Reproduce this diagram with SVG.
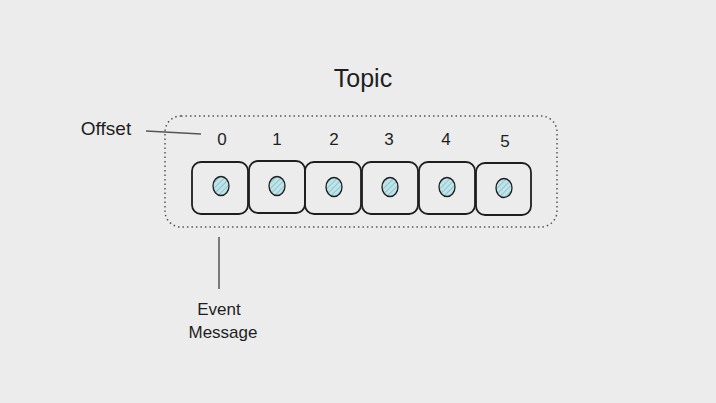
<svg xmlns="http://www.w3.org/2000/svg" width="716" height="403" viewBox="0 0 716 403">
<defs>
<pattern id="hatch" width="4" height="4" patternUnits="userSpaceOnUse" patternTransform="rotate(45)">
<rect width="4" height="4" fill="#bfe3e8"/>
<line x1="0" y1="0" x2="0" y2="4" stroke="#7fbcc6" stroke-width="1.5"/>
</pattern>
</defs>
<style>
.t{font-family:"Liberation Sans","DejaVu Sans",sans-serif;fill:#1e1e1e}
.box{fill:none;stroke:#1e1e1e;stroke-width:1.8}
.dot{fill:url(#hatch);stroke:#1e1e1e;stroke-width:1.3}
.ln{stroke:#555;stroke-width:1.5;fill:none}
</style>
<rect width="716" height="403" fill="#ececec"/>
<g id="topic">
<rect x="165" y="116" width="392" height="111" rx="16" fill="none" stroke="#555" stroke-width="1.5" stroke-dasharray="1.5 3"/>
<text class="t" x="363" y="87" font-size="25" text-anchor="middle">Topic</text>
</g>
<g id="offset"><text class="t" x="106" y="135" font-size="19" text-anchor="middle">Offset</text></g>
<g id="event"><text class="t" x="219" y="315" font-size="17" text-anchor="middle">Event</text><text class="t" x="223" y="338" font-size="17" text-anchor="middle">Message</text></g>
<g id="n0"><rect class="box" x="192" y="162" width="56" height="52" rx="9"/><ellipse class="dot" cx="221" cy="186" rx="8" ry="9.5"/><text class="t" x="222" y="145" font-size="17" text-anchor="middle">0</text></g>
<g id="n1"><rect class="box" x="249" y="161" width="56" height="52" rx="9"/><ellipse class="dot" cx="277" cy="186" rx="8" ry="9.5"/><text class="t" x="277" y="145" font-size="17" text-anchor="middle">1</text></g>
<g id="n2"><rect class="box" x="305" y="162" width="56" height="52" rx="9"/><ellipse class="dot" cx="334" cy="187" rx="8" ry="9.5"/><text class="t" x="334" y="145" font-size="17" text-anchor="middle">2</text></g>
<g id="n3"><rect class="box" x="362" y="162" width="56" height="52" rx="9"/><ellipse class="dot" cx="390" cy="187" rx="8" ry="9.5"/><text class="t" x="389" y="145" font-size="17" text-anchor="middle">3</text></g>
<g id="n4"><rect class="box" x="419" y="162" width="56" height="52" rx="9"/><ellipse class="dot" cx="447" cy="187" rx="8" ry="9.5"/><text class="t" x="446" y="145" font-size="17" text-anchor="middle">4</text></g>
<g id="n5"><rect class="box" x="476" y="163" width="55" height="52" rx="9"/><ellipse class="dot" cx="504" cy="188" rx="8" ry="9.5"/><text class="t" x="505" y="147" font-size="17" text-anchor="middle">5</text></g>
<g id="connectors">
<path class="ln" d="M146 131 L201 134"/>
<path class="ln" d="M219 237 L219 289"/>
</g>
</svg>
